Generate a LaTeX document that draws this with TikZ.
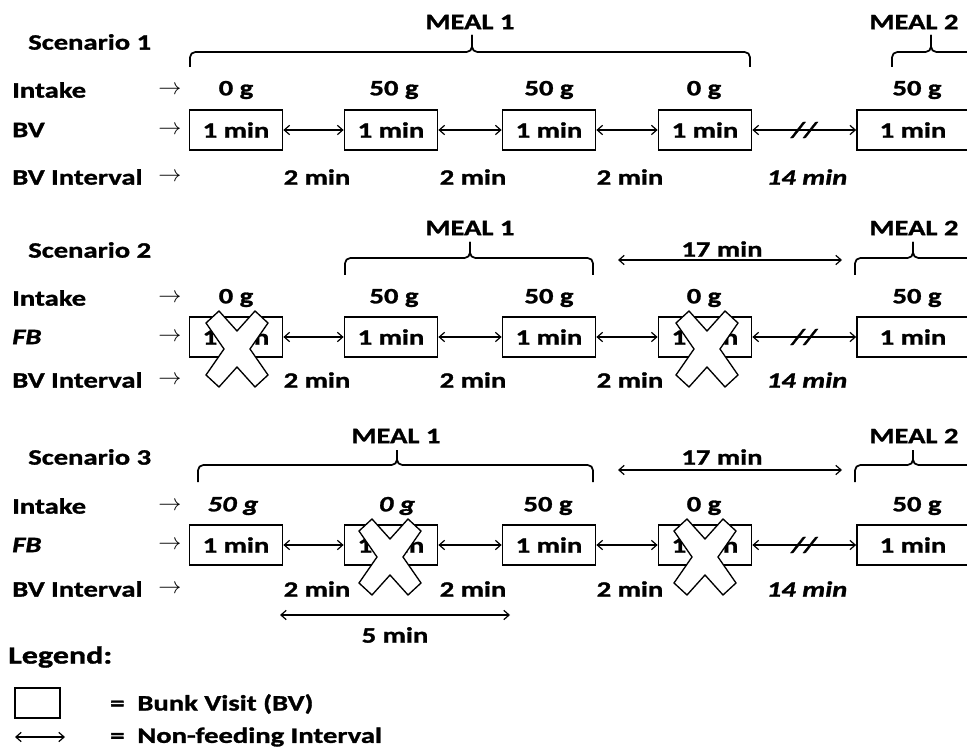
\documentclass[tikz,border=0pt]{standalone}
\usepackage{fontspec}
\setmainfont{Carlito}[FakeStretch=1.3,
  BoldFeatures={FakeBold=1.3}, BoldItalicFeatures={FakeBold=1.3}]
\usetikzlibrary{arrows.meta}

\tikzset{
  nofeed/.pic={
    \draw[line width=1pt, fill=white, line join=miter]
      (-31,-26) -- (-18,-38) -- (0,-18) -- (18,-38) -- (31,-26) -- (13,0)
      -- (31,26) -- (18,38) -- (0,18) -- (-18,38) -- (-31,26) -- (-13,0) -- cycle;
  }
}

\begin{document}
\begin{tikzpicture}[
  x=0.75pt, y=-0.75pt,
  font=\fontsize{16.5}{19}\selectfont\bfseries,
  >={Straight Barb[length=4pt,width=7pt]},
  lbl/.style={anchor=west, inner sep=0pt},
  val/.style={inner sep=0pt},
  bv/.style={draw, line width=1.3pt, minimum width=69.75pt, minimum height=30pt, inner sep=0pt},
  bvwide/.style={bv, minimum width=84pt},
  gap/.style={<->, line width=0.9pt},
  mbrace/.style={line width=1.3pt, rounded corners=4pt},
]
\useasboundingbox (0,0) rectangle (967,755);
\clip (0,0) rectangle (967,755);

% Scenario 1
\node[lbl] (t1) at (28,42) {Scenario 1};
\node[val] (m11) at (470,22) {MEAL 1};
\node[val] (m12) at (914,22) {MEAL 2};
\draw[mbrace] (190,67) |- (472,52) -- (472,35);
\draw[mbrace] (750,67) |- (472,52) -- (472,35);
\draw[mbrace] (892,67) |- (931,52) -- (931,35);
\draw[mbrace] (1000,67) |- (931,52) -- (931,35);

\node[lbl] (in1) at (12,90) {Intake};
\node[val] (in1a) at (170,90) {$\rightarrow$};
\node[val] (g11) at (236,90) {0 g};
\node[val] (g12) at (394,90) {50 g};
\node[val] (g13) at (549,90) {50 g};
\node[val] (g14) at (704,90) {0 g};
\node[val] (g15) at (917,90) {50 g};

\node[lbl] (bv1) at (12,130) {BV};
\node[val] (bv1a) at (170,130) {$\rightarrow$};
\node[bv] (b11) at (236,130) {1 min};
\node[bv] (b12) at (391,130) {1 min};
\node[bv] (b13) at (549,130) {1 min};
\node[bv] (b14) at (705,130) {1 min};
\node[bvwide] (b15) at (913,130) {1 min};
\draw[gap] (b11.east) -- (b12.west);
\draw[gap] (b12.east) -- (b13.west);
\draw[gap] (b13.east) -- (b14.west);
\draw[gap] (b14.east) -- node[val]{\itshape //} (b15.west);

\node[lbl] (iv1) at (12,177) {BV Interval};
\node[val] (iv1a) at (170,177) {$\rightarrow$};
\node[val] (d11) at (317,177) {2 min};
\node[val] (d12) at (473,177) {2 min};
\node[val] (d13) at (630,177) {2 min};
\node[val] (d14) at (807,177) {\itshape 14 min};

% Scenario 2
\node[lbl] (t2) at (28,250) {Scenario 2};
\node[val] (m21) at (470,228) {MEAL 1};
\node[val] (m22) at (914,228) {MEAL 2};
\draw[mbrace] (345,275) |- (470,258) -- (470,242);
\draw[mbrace] (593,275) |- (470,258) -- (470,242);
\draw[mbrace] (855,275) |- (913,258) -- (913,242);
\draw[mbrace] (1000,275) |- (913,258) -- (913,242);
\node[val] (s2t) at (722,249) {17 min};
\coordinate (s2a) at (618,260);
\coordinate (s2b) at (842,260);
\draw[gap] (s2a) -- (s2b);

\node[lbl] (in2) at (12,298) {Intake};
\node[val] (in2a) at (170,298) {$\rightarrow$};
\node[val] (g21) at (236,298) {0 g};
\node[val] (g22) at (394,298) {50 g};
\node[val] (g23) at (549,298) {50 g};
\node[val] (g24) at (704,298) {0 g};
\node[val] (g25) at (917,298) {50 g};

\node[lbl] (fb2) at (12,337) {\itshape FB};
\node[val] (fb2a) at (170,337) {$\rightarrow$};
\node[bv] (b21) at (236,337) {1 min};
\node[bv] (b22) at (391,337) {1 min};
\node[bv] (b23) at (549,337) {1 min};
\node[bv] (b24) at (705,337) {1 min};
\node[bvwide] (b25) at (913,337) {1 min};
\draw[gap] (b21.east) -- (b22.west);
\draw[gap] (b22.east) -- (b23.west);
\draw[gap] (b23.east) -- (b24.west);
\draw[gap] (b24.east) -- node[val]{\itshape //} (b25.west);
\pic at (237,349) {nofeed};
\pic at (707,349) {nofeed};

\node[lbl] (iv2) at (12,380) {BV Interval};
\node[val] (iv2a) at (170,380) {$\rightarrow$};
\node[val] (d21) at (317,380) {2 min};
\node[val] (d22) at (473,380) {2 min};
\node[val] (d23) at (630,380) {2 min};
\node[val] (d24) at (807,380) {\itshape 14 min};

% Scenario 3
\node[lbl] (t3) at (28,457) {Scenario 3};
\node[val] (m31) at (396,436) {MEAL 1};
\node[val] (m32) at (914,436) {MEAL 2};
\draw[mbrace] (198,482) |- (397,465) -- (397,450);
\draw[mbrace] (593,482) |- (397,465) -- (397,450);
\draw[mbrace] (855,482) |- (913,465) -- (913,450);
\draw[mbrace] (1000,482) |- (913,465) -- (913,450);
\node[val] (s3t) at (722,457) {17 min};
\coordinate (s3a) at (618,470);
\coordinate (s3b) at (842,470);
\draw[gap] (s3a) -- (s3b);

\node[lbl] (in3) at (12,506) {Intake};
\node[val] (in3a) at (170,506) {$\rightarrow$};
\node[val] (g31) at (233,506) {\itshape 50 g};
\node[val] (g32) at (397,506) {\itshape 0 g};
\node[val] (g33) at (548,506) {50 g};
\node[val] (g34) at (704,506) {0 g};
\node[val] (g35) at (917,506) {50 g};

\node[lbl] (fb3) at (12,545) {\itshape FB};
\node[val] (fb3a) at (170,545) {$\rightarrow$};
\node[bv] (b31) at (236,545) {1 min};
\node[bv] (b32) at (391,545) {1 min};
\node[bv] (b33) at (549,545) {1 min};
\node[bv] (b34) at (705,545) {1 min};
\node[bvwide] (b35) at (913,545) {1 min};
\draw[gap] (b31.east) -- (b32.west);
\draw[gap] (b32.east) -- (b33.west);
\draw[gap] (b33.east) -- (b34.west);
\draw[gap] (b34.east) -- node[val]{\itshape //} (b35.west);
\pic at (390,557) {nofeed};
\pic at (705,557) {nofeed};

\node[lbl] (iv3) at (12,589) {BV Interval};
\node[val] (iv3a) at (170,589) {$\rightarrow$};
\node[val] (d31) at (317,589) {2 min};
\node[val] (d32) at (473,589) {2 min};
\node[val] (d33) at (630,589) {2 min};
\node[val] (d34) at (807,589) {\itshape 14 min};
\coordinate (f3a) at (280,615);
\coordinate (f3b) at (510,615);
\draw[gap] (f3a) -- (f3b);
\node[val] (f3t) at (395,635) {5 min};

% Legend
\node[lbl, font=\fontsize{18.5}{21}\selectfont\bfseries] (lg) at (8,657) {Legend:};
\node[draw, line width=1.3pt, minimum width=33.75pt, minimum height=22.5pt, inner sep=0pt] (lgbox) at (37.5,703) {};
\node[lbl] (lgbv) at (110,704) {=\ \ Bunk Visit (BV)};
\coordinate (lga) at (15,737);
\coordinate (lgb) at (65,737);
\draw[gap] (lga) -- (lgb);
\node[lbl] (lgnf) at (110,737) {=\ \ Non-feeding Interval};
\end{tikzpicture}
\end{document}
